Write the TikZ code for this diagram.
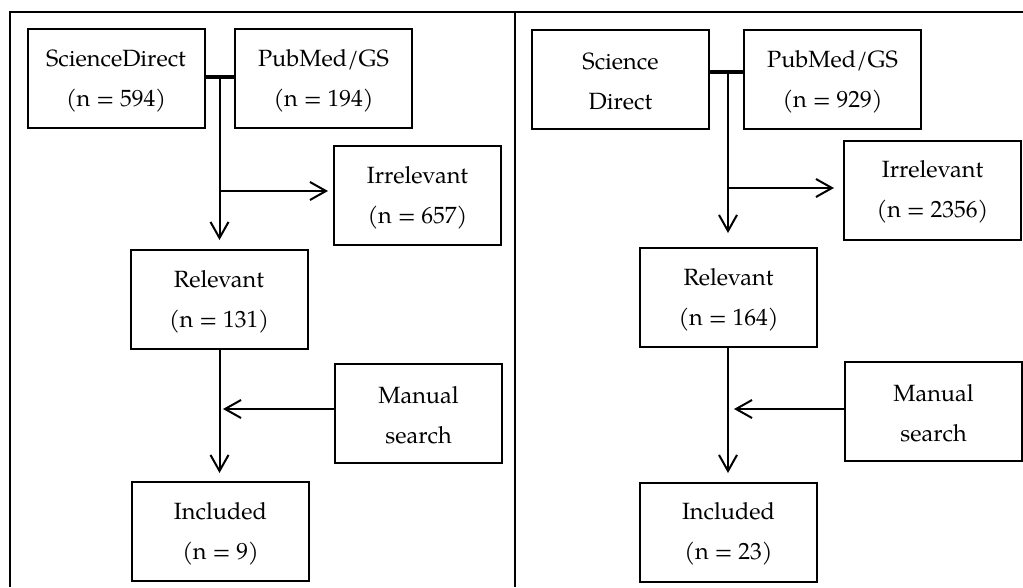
\documentclass[tikz,border=0pt]{standalone}
\usepackage{fontspec}
\setmainfont{TeX Gyre Pagella}
\usetikzlibrary{arrows.meta}
\newcommand{\topstrut}{\rule{0pt}{21pt}}
\begin{document}
\begin{tikzpicture}[x=1pt,y=-1pt,
  box/.style={draw, line width=2pt, minimum width=177pt, minimum height=99pt,
    align=center, inner sep=0pt, font=\fontsize{23.5}{40}\selectfont},
  narrow/.style={minimum width=167pt},
  arr/.style={line width=2pt, -{Straight Barb[length=16pt,width=18pt,line width=2pt]}},
  joinline/.style={line width=3.5pt},
  frame/.style={line width=2pt}]
\useasboundingbox (0,0) rectangle (1023,587);
% frame
\draw[frame] (10,587) -- (10,12) -- (1023,12);
\draw[frame] (515,12) -- (515,587);

% ---------- left panel ----------
\node[box] (sd1) at (116,78.5) {\topstrut ScienceDirect\\(n = 594)};
\node[box] (pm1) at (323.5,78.5) {\topstrut PubMed/GS\\(n = 194)};
\node[box,narrow] (ir1) at (417.5,195.5) {\topstrut Irrelevant\\(n = 657)};
\node[box] (re1) at (219,299.5) {\topstrut Relevant\\(n = 131)};
\node[box,narrow] (ms1) at (418.5,413.5) {\topstrut Manual\\search};
\node[box] (in1) at (220.5,531.5) {\topstrut Included\\(n = 9)};

\coordinate (j1) at (219.5,77);
\coordinate (a1) at (219.5,240);
\coordinate (b1) at (219.5,191);
\coordinate (c1) at (328,191);
\coordinate (m1) at (335,409);
\coordinate (t1) at (223,409);
\coordinate (s1) at (219.5,349);
\coordinate (d1) at (219.5,473);
\draw[joinline] (sd1.east |- j1) -- (pm1.west |- j1);
\draw[arr] (j1) -- (a1);
\draw[arr] (b1) -- (c1);
\draw[arr] (s1) -- (d1);
\draw[arr] (m1) -- (t1);

% ---------- right panel ----------
\node[box] (sd2) at (620.5,79.5) {\topstrut Science\\Direct};
\node[box] (pm2) at (832.5,79.5) {\topstrut PubMed/GS\\(n = 929)};
\node[box] (ir2) at (932.5,190) {\topstrut Irrelevant\\(n = 2356)};
\node[box] (re2) at (728.5,297.5) {\topstrut Relevant\\(n = 164)};
\node[box] (ms2) at (933.5,411.5) {\topstrut Manual\\search};
\node[box] (in2) at (728.5,532) {\topstrut Included\\(n = 23)};

\coordinate (j2) at (728,72);
\coordinate (a2) at (728,233);
\coordinate (b2) at (728,188);
\coordinate (c2) at (834,188);
\coordinate (m2) at (845,409);
\coordinate (t2) at (734,409);
\coordinate (s2) at (728,347);
\coordinate (d2) at (728,473);
\draw[joinline] (sd2.east |- j2) -- (pm2.west |- j2);
\draw[arr] (j2) -- (a2);
\draw[arr] (b2) -- (c2);
\draw[arr] (s2) -- (d2);
\draw[arr] (m2) -- (t2);
\end{tikzpicture}
\end{document}
